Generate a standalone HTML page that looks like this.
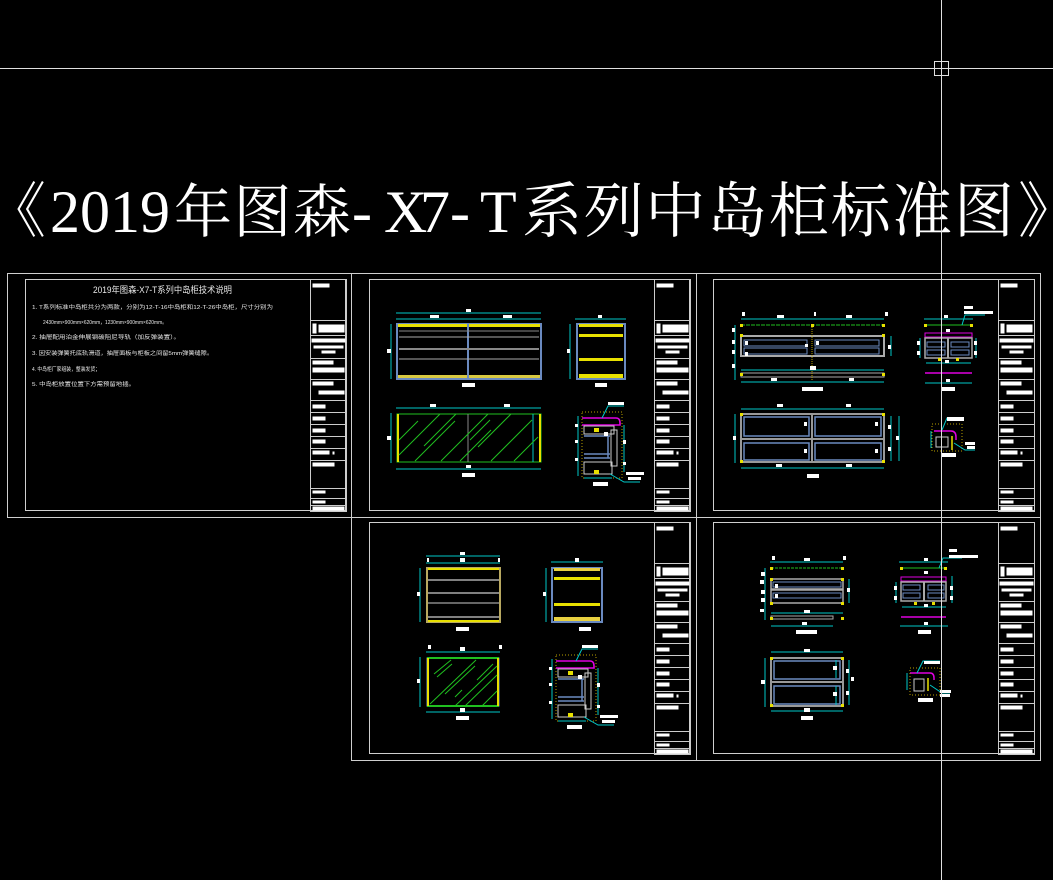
<!DOCTYPE html>
<html><head><meta charset="utf-8"><style>
html,body{margin:0;padding:0;background:#000;width:1053px;height:880px;overflow:hidden}
svg{display:block}
.t{font-family:"Liberation Sans","Noto Sans CJK SC",sans-serif;fill:#e8e8e8}
</style></head><body>
<svg width="1053" height="880" viewBox="0 0 1053 880" xmlns="http://www.w3.org/2000/svg">
<defs>
<g id="tb">
  <rect x="0" y="0" width="36" height="232" fill="none" stroke="#ccc" stroke-width="1"/>
  <rect x="2" y="4" width="17" height="4" fill="#fff"/>
  <line x1="0" y1="41" x2="36" y2="41" stroke="#ccc"/>
  <rect x="2" y="44" width="4" height="10" fill="#fff"/><rect x="8" y="45" width="26" height="8" fill="#fff"/>
  <line x1="0" y1="56" x2="36" y2="56" stroke="#ccc"/>
  <rect x="1" y="59" width="34" height="4" fill="#fff"/><rect x="3" y="66" width="30" height="3" fill="#fff"/><rect x="11" y="71" width="14" height="3" fill="#fff"/>
  <line x1="0" y1="79" x2="36" y2="79" stroke="#ccc"/>
  <rect x="2" y="81" width="21" height="4" fill="#fff"/><rect x="2" y="88" width="32" height="5" fill="#fff"/>
  <line x1="0" y1="100" x2="36" y2="100" stroke="#ccc"/>
  <rect x="2" y="102" width="21" height="4" fill="#fff"/><rect x="8" y="111" width="26" height="4" fill="#fff"/>
  <line x1="0" y1="121" x2="36" y2="121" stroke="#ccc"/>
  <rect x="2" y="125" width="13" height="4" fill="#fff"/><line x1="0" y1="133" x2="36" y2="133" stroke="#ccc"/>
  <rect x="2" y="137" width="13" height="4" fill="#fff"/><line x1="0" y1="145" x2="36" y2="145" stroke="#ccc"/>
  <rect x="2" y="149" width="13" height="4" fill="#fff"/><line x1="0" y1="157" x2="36" y2="157" stroke="#ccc"/>
  <rect x="2" y="160" width="13" height="4" fill="#fff"/><line x1="0" y1="169" x2="36" y2="169" stroke="#ccc"/>
  <rect x="2" y="171" width="17" height="4" fill="#fff"/><rect x="22" y="172" width="2" height="3" fill="#fff"/><line x1="0" y1="181" x2="36" y2="181" stroke="#ccc"/>
  <rect x="2" y="183" width="22" height="4" fill="#fff"/><line x1="0" y1="209" x2="36" y2="209" stroke="#ccc"/>
  <rect x="2" y="211" width="13" height="3" fill="#fff"/><line x1="0" y1="219" x2="36" y2="219" stroke="#ccc"/>
  <rect x="2" y="221" width="13" height="3" fill="#fff"/><line x1="0" y1="226" x2="36" y2="226" stroke="#ccc"/>
  <rect x="2" y="227" width="32" height="4" fill="#fff"/>
</g>
<g id="sec">
  <rect x="4" y="2" width="40" height="66" fill="none" stroke="#b8a000" stroke-width="1" stroke-dasharray="1,2"/>
  <path d="M4 8 H38 Q42 8 42 13 V15 H4" fill="none" stroke="#e000e0" stroke-width="1.6"/>
  <rect x="6" y="16" width="30" height="8" fill="none" stroke="#ccc"/>
  <rect x="16" y="18" width="5" height="4" fill="#e8e000"/>
  <line x1="6" y1="26" x2="32" y2="26" stroke="#6a8ac0" stroke-width="1.5"/>
  <line x1="30" y1="26" x2="30" y2="48" stroke="#6a8ac0" stroke-width="1.5"/>
  <line x1="6" y1="44" x2="32" y2="44" stroke="#6a8ac0" stroke-width="1.5"/>
  <line x1="6" y1="48" x2="32" y2="48" stroke="#6a8ac0" stroke-width="1.5"/>
  <rect x="33" y="20" width="6" height="36" fill="none" stroke="#ccc"/>
  <rect x="6" y="52" width="28" height="12" fill="none" stroke="#ccc"/>
  <rect x="16" y="60" width="5" height="4" fill="#e8e000"/>
  <line x1="0" y1="6" x2="0" y2="66" stroke="#00c8c8"/>
  <line x1="46" y1="15" x2="46" y2="62" stroke="#00c8c8"/>
  <line x1="6" y1="68" x2="34" y2="68" stroke="#00c8c8"/>
  <path d="M32 64 L46 72 H62" fill="none" stroke="#00c8c8"/>
  <path d="M24 8 L30 -4 H46" fill="none" stroke="#00c8c8"/>
  <rect x="30" y="-8" width="16" height="3" fill="#fff"/>
  <rect x="48" y="62" width="18" height="3" fill="#fff"/><rect x="50" y="67" width="13" height="3" fill="#fff"/>
  <rect x="-3" y="14" width="3" height="3" fill="#fff"/><rect x="-3" y="30" width="3" height="3" fill="#fff"/><rect x="-3" y="48" width="3" height="3" fill="#fff"/>
  <rect x="45" y="30" width="3" height="4" fill="#fff"/><rect x="45" y="52" width="3" height="3" fill="#fff"/>
  <rect x="26" y="22" width="4" height="4" fill="#fff"/>
  <rect x="15" y="72" width="15" height="4" fill="#fff"/>
</g>
</defs>

<line x1="0" y1="68.5" x2="1053" y2="68.5" stroke="#e0e0e0" stroke-width="1"/>
<rect x="934.5" y="61.5" width="14" height="14" fill="none" stroke="#e0e0e0" stroke-width="1"/>

<!-- title -->
<g fill="#fff" font-size="60">
<text x="-14" y="232" font-family="'Noto Serif CJK SC',serif">《</text>
<text x="50" y="232" font-family="'Liberation Serif',serif" textLength="120" lengthAdjust="spacingAndGlyphs">2019</text>
<text x="174" y="232" font-family="'Noto Serif CJK SC',serif" font-size="58" textLength="177" lengthAdjust="spacing">年图森</text>
<text y="232" font-family="'Liberation Serif',serif" x="352 384 420 450 480">-X7-T</text>
<text x="522" y="232" font-family="'Noto Serif CJK SC',serif" font-size="60" textLength="492" lengthAdjust="spacing">系列中岛柜标准图</text>
<text x="1018" y="232" font-family="'Noto Serif CJK SC',serif">》</text>
</g>

<g fill="none" stroke="#cfcfcf" stroke-width="1">
  <rect x="7.5" y="273.5" width="344" height="244"/>
  <rect x="25.5" y="279.5" width="320" height="231"/>
  <rect x="351.5" y="273.5" width="345" height="244"/>
  <rect x="369.5" y="279.5" width="320" height="231"/>
  <rect x="696.5" y="273.5" width="344" height="244"/>
  <rect x="713.5" y="279.5" width="321" height="231"/>
  <rect x="351.5" y="517.5" width="345" height="243"/>
  <rect x="369.5" y="522.5" width="320" height="231"/>
  <rect x="696.5" y="517.5" width="344" height="243"/>
  <rect x="713.5" y="522.5" width="321" height="231"/>
</g>
<use href="#tb" x="310.5" y="279.5"/>
<use href="#tb" x="654.5" y="279.5"/>
<use href="#tb" x="998.5" y="279.5"/>
<use href="#tb" x="654.5" y="522.5"/>
<use href="#tb" x="998.5" y="522.5"/>

<text class="t" x="93" y="293" font-size="9" textLength="139" lengthAdjust="spacingAndGlyphs">2019年图森-X7-T系列中岛柜技术说明</text>
<g class="t" font-size="5.6" fill="#cfcfcf">
<text x="32" y="309" textLength="241" lengthAdjust="spacingAndGlyphs">1. T系列标准中岛柜共分为两款，分别为12-T-16中岛柜和12-T-26中岛柜，尺寸分别为</text>
<text x="43" y="324" textLength="124" lengthAdjust="spacingAndGlyphs">2430mm×900mm×620mm，1230mm×900mm×620mm。</text>
<text x="32" y="339" textLength="148" lengthAdjust="spacingAndGlyphs">2. 抽屉配用泊金伸展钢碳阻尼导轨（加反弹装置）。</text>
<text x="32" y="355" textLength="181" lengthAdjust="spacingAndGlyphs">3. 因安装弹簧托底轨滑道，抽屉面板与柜板之间留5mm弹簧缝隙。</text>
<text x="32" y="371" textLength="68" lengthAdjust="spacingAndGlyphs">4. 中岛柜厂家组装，整装发货；</text>
<text x="32" y="386" textLength="103" lengthAdjust="spacingAndGlyphs">5. 中岛柜放置位置下方需预留地插。</text>
</g>

<!-- sheet 2 -->
<g stroke-width="1" fill="none">
  <line x1="396" y1="313" x2="541" y2="313" stroke="#00c8c8"/>
  <line x1="396" y1="319" x2="541" y2="319" stroke="#00c8c8"/>
  <line x1="391" y1="324" x2="391" y2="379" stroke="#00c8c8"/>
  <rect x="397" y="324" width="144" height="55" stroke="#6a8ac0" stroke-width="2"/>
  <rect x="398" y="324" width="142" height="3" fill="#e8e000" stroke="none"/>
  <rect x="398" y="375" width="142" height="3" fill="#d8c840" stroke="none"/>
  <line x1="468" y1="324" x2="468" y2="379" stroke="#6a8ac0" stroke-width="2"/>
  <line x1="399" y1="337" x2="539" y2="337" stroke="#aaa"/>
  <line x1="399" y1="349" x2="539" y2="349" stroke="#888" stroke-width="2"/>
  <line x1="399" y1="359" x2="539" y2="359" stroke="#aaa"/>
  <line x1="399" y1="331" x2="539" y2="331" stroke="#888"/>
  <line x1="575" y1="319" x2="626" y2="319" stroke="#00c8c8"/>
  <line x1="570" y1="324" x2="570" y2="379" stroke="#00c8c8"/>
  <rect x="577" y="324" width="48" height="55" stroke="#6a8ac0" stroke-width="2"/>
  <rect x="579" y="324" width="44" height="3" fill="#e8e000" stroke="none"/>
  <rect x="579" y="334" width="44" height="3" fill="#e8e000" stroke="none"/>
  <rect x="579" y="358" width="44" height="3" fill="#e8e000" stroke="none"/>
  <rect x="579" y="374" width="44" height="4" fill="#e8e000" stroke="none"/>
  <line x1="396" y1="408" x2="541" y2="408" stroke="#00c8c8"/>
  <line x1="396" y1="469" x2="541" y2="469" stroke="#00c8c8"/>
  <line x1="391" y1="413" x2="391" y2="463" stroke="#00c8c8"/>
  <rect x="397" y="414" width="144" height="48" stroke="#20c020"/>
  <rect x="397" y="414" width="2" height="48" fill="#e8e000" stroke="none"/>
  <rect x="539" y="414" width="2" height="48" fill="#e8e000" stroke="none"/>
  <line x1="468" y1="414" x2="468" y2="462" stroke="#888"/>
  <line x1="533" y1="414" x2="533" y2="462" stroke="#00c8c8"/>
  <g stroke="#20c020">
    <line x1="399" y1="440" x2="418" y2="421"/><line x1="399" y1="455" x2="440" y2="414"/>
    <line x1="424" y1="446" x2="456" y2="414"/><line x1="415" y1="461" x2="455" y2="421"/>
    <line x1="441" y1="461" x2="488" y2="414"/><line x1="460" y1="461" x2="491" y2="430"/>
    <line x1="478" y1="447" x2="511" y2="414"/><line x1="491" y1="461" x2="532" y2="420"/>
    <line x1="514" y1="461" x2="538" y2="437"/><line x1="470" y1="440" x2="490" y2="420"/>
  </g>
  <use href="#sec" x="578" y="410"/>
</g>
<g fill="#fff">
  <rect x="466" y="309" width="5" height="3"/><rect x="430" y="315" width="9" height="3"/><rect x="503" y="315" width="9" height="3"/>
  <rect x="387" y="349" width="4" height="4"/><rect x="462" y="383" width="13" height="4"/>
  <rect x="598" y="315" width="4" height="3"/><rect x="567" y="349" width="3" height="4"/><rect x="595" y="383" width="12" height="4"/>
  <rect x="430" y="404" width="6" height="3"/><rect x="504" y="404" width="6" height="3"/><rect x="387" y="436" width="4" height="4"/>
  <rect x="466" y="465" width="5" height="3"/><rect x="462" y="473" width="13" height="4"/>
</g>

<!-- sheet 3 -->
<g stroke-width="1" fill="none">
  <line x1="741" y1="319" x2="884" y2="319" stroke="#00c8c8"/>
  <line x1="741" y1="325" x2="884" y2="325" stroke="#20c020" stroke-dasharray="4,1"/>
  <line x1="735" y1="325" x2="735" y2="380" stroke="#00c8c8"/>
  <rect x="741" y="336" width="143" height="20" stroke="#aaa" stroke-width="2"/>
  <rect x="744" y="340" width="63" height="6" stroke="#6a8ac0"/><rect x="815" y="340" width="64" height="6" stroke="#6a8ac0"/>
  <rect x="744" y="348" width="63" height="6" stroke="#6a8ac0"/><rect x="815" y="348" width="64" height="6" stroke="#6a8ac0"/>
  <rect x="741" y="373" width="143" height="4" stroke="#aaa"/>
  <line x1="741" y1="370" x2="884" y2="370" stroke="#00c8c8"/>
  <line x1="741" y1="382" x2="884" y2="382" stroke="#00c8c8"/>
  <line x1="891" y1="336" x2="891" y2="356" stroke="#00c8c8"/>
  <line x1="812" y1="325" x2="812" y2="380" stroke="#b8a000" stroke-dasharray="1,1"/>
  <line x1="924" y1="319" x2="973" y2="319" stroke="#00c8c8"/>
  <line x1="925" y1="325" x2="972" y2="325" stroke="#20c020"/>
  <rect x="925" y="333" width="47" height="4" stroke="#e000e0"/>
  <rect x="925" y="338" width="47" height="20" stroke="#aaa" stroke-width="1.5"/>
  <line x1="948" y1="338" x2="948" y2="358" stroke="#aaa" stroke-width="2"/>
  <rect x="927" y="342" width="18" height="5" stroke="#6a8ac0"/><rect x="951" y="342" width="18" height="5" stroke="#6a8ac0"/>
  <rect x="927" y="350" width="18" height="5" stroke="#6a8ac0"/><rect x="951" y="350" width="18" height="5" stroke="#6a8ac0"/>
  <line x1="925" y1="373" x2="972" y2="373" stroke="#e000e0" stroke-width="1.5"/>
  <line x1="925" y1="383" x2="972" y2="383" stroke="#00c8c8"/>
  <line x1="926" y1="363" x2="971" y2="363" stroke="#00c8c8"/>
  <line x1="920" y1="338" x2="920" y2="358" stroke="#00c8c8"/>
  <line x1="976" y1="338" x2="976" y2="358" stroke="#00c8c8"/>
  <path d="M962 325 L965 315 H985" stroke="#00c8c8"/>
  <line x1="741" y1="409" x2="884" y2="409" stroke="#00c8c8"/>
  <line x1="741" y1="468" x2="884" y2="468" stroke="#00c8c8"/>
  <line x1="735" y1="414" x2="735" y2="463" stroke="#00c8c8"/>
  <rect x="741" y="414" width="143" height="48" stroke="#999" stroke-width="2"/>
  <rect x="744" y="417" width="65" height="19" stroke="#6a8ac0" stroke-width="1.5"/><rect x="815" y="417" width="66" height="19" stroke="#6a8ac0" stroke-width="1.5"/>
  <rect x="744" y="443" width="65" height="17" stroke="#6a8ac0" stroke-width="1.5"/><rect x="815" y="443" width="66" height="17" stroke="#6a8ac0" stroke-width="1.5"/>
  <line x1="741" y1="439" x2="884" y2="439" stroke="#999" stroke-width="2"/>
  <line x1="812" y1="414" x2="812" y2="462" stroke="#999" stroke-width="2"/>
  <line x1="891" y1="416" x2="891" y2="461" stroke="#00c8c8"/>
  <line x1="899" y1="416" x2="899" y2="461" stroke="#00c8c8"/>
  <path d="M934 431 H951 Q956 431 956 437 V440" stroke="#e000e0" stroke-width="1.5"/>
  <rect x="936" y="437" width="12" height="10" stroke="#ccc"/>
  <line x1="952" y1="436" x2="952" y2="450" stroke="#e8e000" stroke-width="1.5"/>
  <rect x="932" y="424" width="30" height="27" stroke="#b8a000" stroke-dasharray="1,2"/>
  <line x1="931" y1="431" x2="931" y2="448" stroke="#00c8c8"/>
  <path d="M954 443 L965 450 H975" stroke="#00c8c8"/>
  <path d="M942 430 L947 418 H964" stroke="#00c8c8"/>
</g>
<g fill="#e8e000">
  <rect x="740" y="324" width="3" height="3"/><rect x="811" y="324" width="3" height="3"/><rect x="882" y="324" width="3" height="3"/>
  <rect x="740" y="334" width="3" height="3"/><rect x="882" y="334" width="3" height="3"/><rect x="740" y="373" width="3" height="3"/><rect x="882" y="373" width="3" height="3"/>
  <rect x="740" y="413" width="3" height="3"/><rect x="882" y="413" width="3" height="3"/><rect x="740" y="460" width="3" height="3"/><rect x="882" y="460" width="3" height="3"/>
  <rect x="924" y="324" width="3" height="3"/><rect x="970" y="324" width="3" height="3"/><rect x="938" y="358" width="3" height="3"/><rect x="956" y="358" width="3" height="3"/>
</g>
<g fill="#fff">
  <rect x="742" y="312" width="3" height="4"/><rect x="814" y="312" width="2" height="4"/><rect x="885" y="312" width="3" height="4"/>
  <rect x="777" y="315" width="7" height="3"/><rect x="846" y="315" width="6" height="3"/>
  <rect x="732" y="328" width="3" height="4"/><rect x="732" y="340" width="3" height="4"/><rect x="732" y="350" width="3" height="4"/><rect x="732" y="364" width="3" height="4"/>
  <rect x="745" y="341" width="3" height="4"/><rect x="745" y="352" width="3" height="4"/><rect x="805" y="344" width="3" height="3"/><rect x="816" y="341" width="3" height="4"/>
  <rect x="810" y="366" width="6" height="4"/><rect x="771" y="378" width="6" height="3"/><rect x="849" y="378" width="5" height="3"/>
  <rect x="802" y="387" width="21" height="4"/><rect x="888" y="345" width="3" height="4"/>
  <rect x="964" y="306" width="9" height="3"/><rect x="964" y="311" width="29" height="3"/>
  <rect x="944" y="315" width="4" height="3"/><rect x="946" y="329" width="4" height="3"/><rect x="945" y="360" width="4" height="3"/><rect x="946" y="379" width="4" height="3"/>
  <rect x="942" y="387" width="13" height="4"/><rect x="917" y="341" width="3" height="4"/><rect x="917" y="351" width="3" height="4"/>
  <rect x="974" y="341" width="3" height="4"/><rect x="974" y="351" width="3" height="4"/>
  <rect x="777" y="404" width="6" height="3"/><rect x="846" y="404" width="5" height="3"/><rect x="733" y="436" width="3" height="4"/>
  <rect x="804" y="422" width="3" height="4"/><rect x="875" y="422" width="3" height="4"/><rect x="804" y="449" width="3" height="4"/><rect x="875" y="449" width="3" height="4"/>
  <rect x="888" y="425" width="3" height="4"/><rect x="896" y="436" width="3" height="4"/><rect x="888" y="447" width="3" height="4"/>
  <rect x="776" y="464" width="6" height="3"/><rect x="846" y="464" width="6" height="3"/><rect x="807" y="474" width="12" height="4"/>
  <rect x="947" y="417" width="17" height="4"/><rect x="965" y="442" width="10" height="3"/><rect x="967" y="446" width="8" height="3"/><rect x="941" y="453" width="15" height="4"/>
</g>

<!-- sheet 4 -->
<g stroke-width="1" fill="none">
  <line x1="426" y1="556" x2="500" y2="556" stroke="#00c8c8"/>
  <line x1="426" y1="563" x2="500" y2="563" stroke="#00c8c8"/>
  <line x1="420" y1="568" x2="420" y2="622" stroke="#00c8c8"/>
  <rect x="427" y="568" width="73" height="54" stroke="#b8a860" stroke-width="2"/>
  <line x1="428" y1="569" x2="499" y2="569" stroke="#e8e000" stroke-width="2"/>
  <line x1="428" y1="621" x2="499" y2="621" stroke="#e8e000" stroke-width="2"/>
  <line x1="428" y1="580" x2="499" y2="580" stroke="#aaa" stroke-width="1.5"/>
  <line x1="428" y1="593" x2="499" y2="593" stroke="#aaa" stroke-width="1.5"/>
  <line x1="428" y1="603" x2="499" y2="603" stroke="#888" stroke-width="1.5"/>
  <line x1="428" y1="617" x2="499" y2="617" stroke="#aaa" stroke-width="1.5"/>
  <line x1="551" y1="562" x2="603" y2="562" stroke="#00c8c8"/>
  <line x1="546" y1="568" x2="546" y2="622" stroke="#00c8c8"/>
  <rect x="552" y="568" width="50" height="54" stroke="#6a8ac0" stroke-width="2"/>
  <rect x="554" y="568" width="46" height="3" fill="#e8d040" stroke="none"/>
  <rect x="554" y="577" width="46" height="3" fill="#e8e000" stroke="none"/>
  <rect x="554" y="603" width="46" height="3" fill="#e8e000" stroke="none"/>
  <rect x="554" y="617" width="46" height="4" fill="#e8d040" stroke="none"/>
  <line x1="426" y1="652" x2="500" y2="652" stroke="#00c8c8"/>
  <line x1="426" y1="712" x2="500" y2="712" stroke="#00c8c8"/>
  <line x1="420" y1="657" x2="420" y2="707" stroke="#00c8c8"/>
  <rect x="427" y="658" width="72" height="48" stroke="#6a8ac0"/>
  <line x1="427" y1="658" x2="499" y2="658" stroke="#20c020" stroke-width="2"/>
  <line x1="427" y1="706" x2="499" y2="706" stroke="#20c020" stroke-width="2"/>
  <rect x="427" y="658" width="2" height="48" fill="#e8e000" stroke="none"/>
  <rect x="497" y="658" width="2" height="48" fill="#e8e000" stroke="none"/>
  <g stroke="#20c020">
    <line x1="434" y1="674" x2="451" y2="660"/><line x1="437" y1="677" x2="452" y2="664"/>
    <line x1="430" y1="704" x2="476" y2="660"/><line x1="445" y1="694" x2="475" y2="666"/>
    <line x1="455" y1="706" x2="497" y2="666"/><line x1="465" y1="706" x2="497" y2="675"/>
    <line x1="477" y1="680" x2="493" y2="664"/><line x1="482" y1="706" x2="497" y2="691"/>
    <line x1="455" y1="697" x2="462" y2="690"/>
  </g>
  <use href="#sec" x="552" y="653"/>
</g>
<g fill="#fff">
  <rect x="460" y="552" width="5" height="3"/><rect x="427" y="558" width="2" height="4"/><rect x="498" y="558" width="2" height="4"/><rect x="460" y="558" width="5" height="4"/>
  <rect x="417" y="592" width="3" height="4"/><rect x="456" y="627" width="13" height="4"/>
  <rect x="575" y="558" width="4" height="4"/><rect x="543" y="592" width="3" height="4"/><rect x="579" y="627" width="12" height="4"/>
  <rect x="428" y="645" width="3" height="4"/><rect x="499" y="645" width="3" height="4"/><rect x="460" y="647" width="5" height="4"/>
  <rect x="417" y="679" width="3" height="4"/><rect x="460" y="708" width="5" height="4"/><rect x="456" y="716" width="13" height="4"/>
</g>

<!-- sheet 5 -->
<g stroke-width="1" fill="none">
  <line x1="770" y1="562" x2="843" y2="562" stroke="#00c8c8"/>
  <line x1="771" y1="568" x2="843" y2="568" stroke="#20c020" stroke-dasharray="3,1"/>
  <line x1="765" y1="568" x2="765" y2="620" stroke="#00c8c8"/>
  <rect x="771" y="579" width="72" height="10" stroke="#aaa" stroke-width="1.5"/>
  <rect x="771" y="590" width="72" height="13" stroke="#aaa" stroke-width="1.5"/>
  <rect x="773" y="582" width="68" height="5" stroke="#6a8ac0"/>
  <rect x="773" y="593" width="68" height="5" stroke="#6a8ac0"/>
  <rect x="771" y="616" width="62" height="3" stroke="#aaa"/>
  <line x1="771" y1="613" x2="843" y2="613" stroke="#00c8c8"/>
  <line x1="771" y1="626" x2="833" y2="626" stroke="#00c8c8"/>
  <line x1="849" y1="579" x2="849" y2="603" stroke="#00c8c8"/>
  <line x1="899" y1="562" x2="948" y2="562" stroke="#00c8c8"/>
  <line x1="901" y1="568" x2="946" y2="568" stroke="#20c020"/>
  <rect x="901" y="577" width="45" height="4" stroke="#e000e0"/>
  <rect x="901" y="582" width="45" height="19" stroke="#aaa" stroke-width="1.5"/>
  <line x1="924" y1="582" x2="924" y2="601" stroke="#aaa" stroke-width="2"/>
  <rect x="903" y="585" width="17" height="5" stroke="#6a8ac0"/><rect x="928" y="585" width="16" height="5" stroke="#6a8ac0"/>
  <rect x="903" y="593" width="17" height="5" stroke="#6a8ac0"/><rect x="928" y="593" width="16" height="5" stroke="#6a8ac0"/>
  <line x1="901" y1="617" x2="946" y2="617" stroke="#e000e0" stroke-width="1.5"/>
  <line x1="900" y1="626" x2="948" y2="626" stroke="#00c8c8"/>
  <line x1="902" y1="607" x2="946" y2="607" stroke="#00c8c8"/>
  <line x1="896" y1="582" x2="896" y2="603" stroke="#00c8c8"/>
  <line x1="952" y1="576" x2="952" y2="603" stroke="#00c8c8"/>
  <path d="M939 568 L943 558 H962" stroke="#00c8c8"/>
  <line x1="771" y1="652" x2="843" y2="652" stroke="#00c8c8"/>
  <line x1="771" y1="711" x2="843" y2="711" stroke="#00c8c8"/>
  <line x1="765" y1="658" x2="765" y2="707" stroke="#00c8c8"/>
  <line x1="849" y1="660" x2="849" y2="705" stroke="#00c8c8"/>
  <rect x="771" y="658" width="72" height="48" stroke="#999" stroke-width="2"/>
  <rect x="774" y="661" width="66" height="18" stroke="#6a8ac0" stroke-width="1.5"/>
  <rect x="774" y="686" width="66" height="18" stroke="#6a8ac0" stroke-width="1.5"/>
  <line x1="771" y1="682" x2="843" y2="682" stroke="#999" stroke-width="2"/>
  <line x1="836" y1="660" x2="836" y2="678" stroke="#00c8c8"/>
  <line x1="836" y1="686" x2="836" y2="705" stroke="#00c8c8"/>
  <path d="M910 673 H930 Q934 673 934 678 V680" stroke="#e000e0" stroke-width="1.5"/>
  <rect x="914" y="679" width="10" height="12" stroke="#ccc"/>
  <line x1="928" y1="678" x2="928" y2="691" stroke="#e8e000" stroke-width="1.5"/>
  <rect x="910" y="668" width="30" height="27" stroke="#b8a000" stroke-dasharray="1,2"/>
  <line x1="907" y1="673" x2="907" y2="690" stroke="#00c8c8"/>
  <path d="M930 685 L942 693 H950" stroke="#00c8c8"/>
  <path d="M917 673 L923 661 H940" stroke="#00c8c8"/>
</g>
<g fill="#e8e000">
  <rect x="770" y="567" width="3" height="3"/><rect x="841" y="567" width="3" height="3"/><rect x="770" y="578" width="3" height="3"/><rect x="841" y="578" width="3" height="3"/>
  <rect x="770" y="602" width="3" height="3"/><rect x="841" y="602" width="3" height="3"/><rect x="770" y="617" width="3" height="3"/><rect x="841" y="617" width="3" height="3"/>
  <rect x="770" y="657" width="3" height="3"/><rect x="841" y="657" width="3" height="3"/><rect x="770" y="704" width="3" height="3"/><rect x="841" y="704" width="3" height="3"/>
  <rect x="900" y="567" width="3" height="3"/><rect x="944" y="567" width="3" height="3"/><rect x="914" y="602" width="3" height="3"/><rect x="932" y="602" width="3" height="3"/>
</g>
<g fill="#fff">
  <rect x="772" y="556" width="3" height="4"/><rect x="843" y="556" width="3" height="4"/><rect x="804" y="558" width="6" height="3"/>
  <rect x="761" y="572" width="4" height="4"/><rect x="760" y="580" width="4" height="4"/><rect x="761" y="590" width="4" height="4"/><rect x="761" y="598" width="4" height="4"/><rect x="760" y="609" width="4" height="3"/>
  <rect x="775" y="584" width="3" height="4"/><rect x="775" y="594" width="3" height="4"/><rect x="847" y="588" width="3" height="4"/>
  <rect x="804" y="610" width="6" height="3"/><rect x="802" y="622" width="5" height="3"/><rect x="796" y="630" width="21" height="4"/>
  <rect x="924" y="558" width="4" height="3"/><rect x="924" y="571" width="4" height="3"/><rect x="924" y="604" width="4" height="3"/><rect x="924" y="622" width="4" height="3"/>
  <rect x="918" y="630" width="13" height="4"/><rect x="894" y="586" width="3" height="4"/><rect x="894" y="596" width="3" height="4"/>
  <rect x="950" y="586" width="3" height="4"/><rect x="950" y="596" width="3" height="4"/>
  <rect x="949" y="549" width="8" height="3"/><rect x="949" y="555" width="29" height="3"/>
  <rect x="804" y="649" width="6" height="3"/><rect x="761" y="680" width="4" height="4"/><rect x="833" y="666" width="4" height="4"/><rect x="833" y="692" width="4" height="4"/>
  <rect x="846" y="669" width="3" height="4"/><rect x="851" y="677" width="3" height="4"/><rect x="846" y="691" width="3" height="4"/>
  <rect x="804" y="708" width="6" height="4"/><rect x="801" y="716" width="12" height="4"/>
  <rect x="924" y="661" width="16" height="3"/><rect x="940" y="690" width="11" height="3"/><rect x="940" y="694" width="10" height="3"/><rect x="918" y="698" width="15" height="4"/>
</g>

<line x1="941.5" y1="0" x2="941.5" y2="880" stroke="#e0e0e0" stroke-width="1"/>
</svg>
</body></html>
